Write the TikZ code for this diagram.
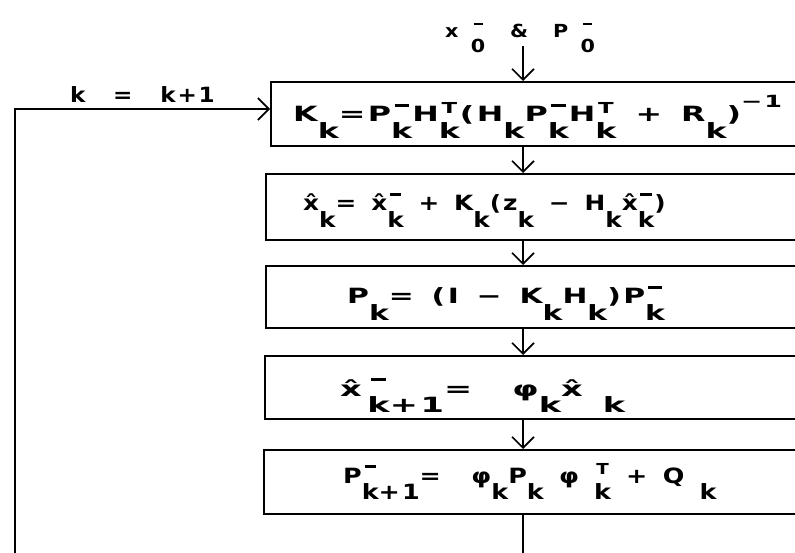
\documentclass[tikz,border=0pt]{standalone}
\usepackage{graphicx}
\usepackage{fontspec}
\setmainfont{DejaVu Sans}[LetterSpace=8,WordSpace=1.4]
\usetikzlibrary{arrows.meta}
\newcommand\lo[1]{\raisebox{-0.8em}{#1}}
\newcommand\barover[1]{\ooalign{\hfil\lo{#1}\hfil\cr\hfil\rule[0.72em]{0.45em}{0.14em}\hfil\cr}}
\newcommand\Tover[1]{\ooalign{\hfil\lo{#1}\hfil\cr\hfil\raisebox{0.4em}{\scalebox{0.72}{T}}\hfil\cr}}
\newcommand\hx{\^{x}}
\newcommand\sx[2]{\scalebox{#1}[1]{#2}}
\begin{document}
\begin{tikzpicture}[x=1pt,y=-1pt,
  box/.style={draw,line width=1.6pt,minimum width=560pt,anchor=north west,inner sep=0pt},
  eq/.style={font=\fontsize{21}{24}\selectfont\bfseries,inner sep=0pt,anchor=base west},
  wire/.style={line width=1.6pt},
  flow/.style={wire,-{Straight Barb[length=11pt,width=22pt,line width=1.6pt]}}]
\useasboundingbox (0,0) rectangle (795,553);
\clip (0,0) rectangle (795,553);
% boxes
\node[box,minimum height=64pt] (b1) at (270,81) {};
\node[box,minimum height=66pt] (b2) at (265,173) {};
\node[box,minimum height=62pt] (b3) at (265,265) {};
\node[box,minimum height=63pt] (b4) at (264,355) {};
\node[box,minimum height=64pt] (b5) at (263,449) {};
% texts
\node[eq] (t1) at (293,122) {\sx{1.51}{K\lo{k}=P\barover{k}H\Tover{k}(H\lo{k}P\barover{k}H\Tover{k} + R\lo{k})\raisebox{0.7em}{\scalebox{0.8}{−1}}}};
\node[eq] (t2) at (303,211) {\sx{1.18}{\hx\lo{k}= \hx\barover{k} + K\lo{k}(z\lo{k} − H\lo{k}\hx\barover{k})}};
\node[eq] (t3) at (347,304) {\sx{1.42}{P\lo{k}= (I − K\lo{k}H\lo{k})P\barover{k}}};
\node[eq] (t4) at (340,396) {\sx{1.6}{\hx\,\barover{k}\lo{+1}=\ \ φ\lo{k}\hx\ \lo{k}}};
\node[eq] (t5) at (343,483) {\sx{1.21}{P\barover{k}\lo{+1}=\ \ φ\lo{k}P\lo{k}\ φ\ \Tover{k} + Q\ \lo{k}}};
\node[eq,font=\fontsize{18}{20}\selectfont\bfseries] (in) at (445,38) {\sx{1.15}{x\ \barover{0}\ \ \&\ \ P\ \barover{0}}};
\node[eq] (inc) at (70,103) {\sx{1.1}{k\ \ =\ \ k+1}};
% connectors
\coordinate (ax) at (523,0);
\coordinate (src) at (523,46);
\coordinate (sink) at (523,553);
\coordinate (lb) at (15,553);
\coordinate (lt) at (15,109);
\draw[flow] (src) -- (b1.north -| ax);
\draw[flow] (b1.south -| ax) -- (b2.north -| ax);
\draw[flow] (b2.south -| ax) -- (b3.north -| ax);
\draw[flow] (b3.south -| ax) -- (b4.north -| ax);
\draw[flow] (b4.south -| ax) -- (b5.north -| ax);
\draw[wire] (b5.south -| ax) -- (sink);
\draw[flow] (lb) -- (lt) -- (lt -| b1.west);
\end{tikzpicture}
\end{document}
